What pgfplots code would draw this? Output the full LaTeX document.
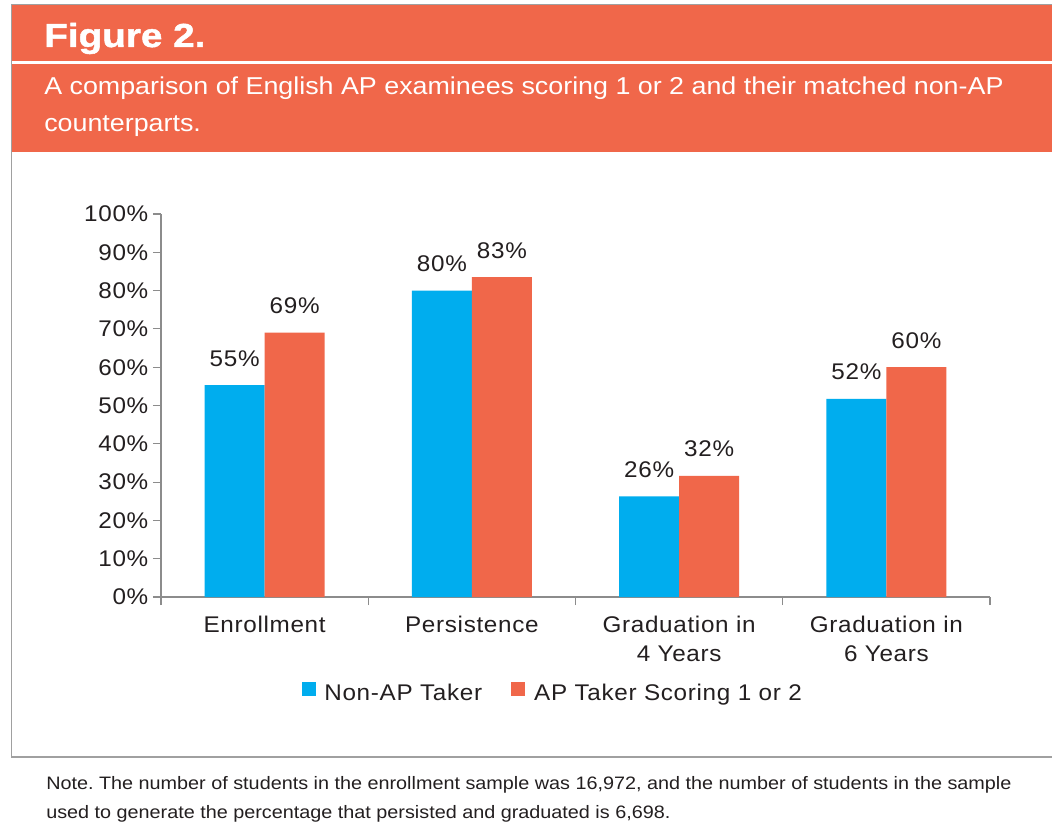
\documentclass[border=0pt]{standalone}
\usepackage{fontspec}
\setmainfont{Liberation Sans}
\newfontfamily\chartfont[FakeStretch=1.07, LetterSpace=3]{Liberation Sans}
\newfontfamily\subfont[FakeStretch=1.1]{Liberation Sans}
\newfontfamily\notefont[FakeStretch=1.1]{Liberation Sans}
\newfontfamily\headfont[FakeStretch=1.16, FakeBold=1.4]{Liberation Sans Bold}
\usepackage{pgfplots}
\pgfplotsset{compat=1.18}
\definecolor{apblue}{HTML}{00ADEE}
\definecolor{aporange}{HTML}{F0674A}
\definecolor{txt}{HTML}{231F20}
\definecolor{axgray}{HTML}{8C8C8C}
\definecolor{bordergray}{HTML}{A0A0A0}
\frenchspacing
\begin{document}
\begin{tikzpicture}
\begin{scope}[x=0.75pt,y=-0.75pt]
\path[use as bounding box, fill=white] (0,0) rectangle (1052,827);
% header band
\fill[aporange] (11,5) rectangle (1052,152);
\fill[white] (11,61) rectangle (1052,64);
\draw[bordergray, line width=0.75pt] (11,5) -- (1052,5);
\draw[bordergray, line width=0.75pt] (11,5) -- (11,757);
\draw[bordergray, line width=1.5pt] (11,757) -- (1052,757);
\node[anchor=base west, inner sep=0pt, text=white, font=\fontsize{25pt}{30pt}\headfont] at (44,47) {Figure 2.};
\node[anchor=base west, inner sep=0pt, text=white, font=\fontsize{18.3pt}{27.5pt}\subfont] at (44,95) {A comparison of English AP examinees scoring 1 or 2 and their matched non-AP};
\node[anchor=base west, inner sep=0pt, text=white, font=\fontsize{18.3pt}{27.5pt}\subfont] at (44,132) {counterparts.};
% note
\node[anchor=base west, inner sep=0pt, text=txt, font=\fontsize{13.5pt}{21pt}\notefont] at (46,789) {Note. The number of students in the enrollment sample was 16,972, and the number of students in the sample};
\node[anchor=base west, inner sep=0pt, text=txt, font=\fontsize{13.5pt}{21pt}\notefont] at (46,818) {used to generate the percentage that persisted and graduated is 6,698.};
\end{scope}
\begin{axis}[
  at={(120.75pt,-447.75pt)}, anchor=south west,
  scale only axis,
  width=621.75pt, height=287.25pt,
  xmin=-0.5, xmax=3.5, ymin=0, ymax=100,
  axis x line=bottom, axis y line=left,
  axis line style={axgray, line width=0.8pt, -},
  ybar=0pt, bar width=45pt,
  ytick={0,10,...,100},
  yticklabel={\pgfmathprintnumber{\tick}\%},
  xtick={0,1,2,3},
  xticklabels={Enrollment, Persistence, {Graduation in\\4 Years}, {Graduation in\\6 Years}},
  minor xtick={-0.5,0.5,1.5,2.5,3.5},
  tick align=outside,
  major tick length=6pt, minor tick length=6pt,
  x tick style={draw=none},
  minor x tick style={draw=axgray, line width=0.8pt},
  y tick style={axgray, line width=0.8pt},
  tick label style={text=txt, font=\fontsize{17pt}{21.4pt}\chartfont},
  xticklabel style={align=center, yshift=-5pt},
  /pgf/number format/assume math mode=true,
  nodes near coords,
  point meta=explicit symbolic,
  every node near coord/.append style={text=txt, font=\fontsize{17pt}{19pt}\chartfont, anchor=base, yshift=14.25pt, inner sep=0pt},
  legend style={at={(0.473,-0.2507)}, anchor=center, draw=none, fill=none,
    font=\fontsize{17pt}{19pt}\chartfont, text=txt,
    /tikz/every even column/.append style={column sep=20pt}},
  legend columns=2,
  legend image code/.code={\fill[#1, draw=none] (0pt,-2.5pt) rectangle (10.5pt,8pt); \path (15pt,0pt);},
  clip=false,
]
\addplot[fill=apblue, draw=none] coordinates {(0,55.3) [55\%] (1,80) [80\%] (2,26.3) [26\%] (3,51.7) [52\%]};
\addplot[fill=aporange, draw=none] coordinates {(0,69) [69\%] (1,83.5) [83\%] (2,31.6) [32\%] (3,60) [60\%]};
\legend{Non-AP Taker, AP Taker Scoring 1 or 2}
\end{axis}
\end{tikzpicture}
\end{document}
